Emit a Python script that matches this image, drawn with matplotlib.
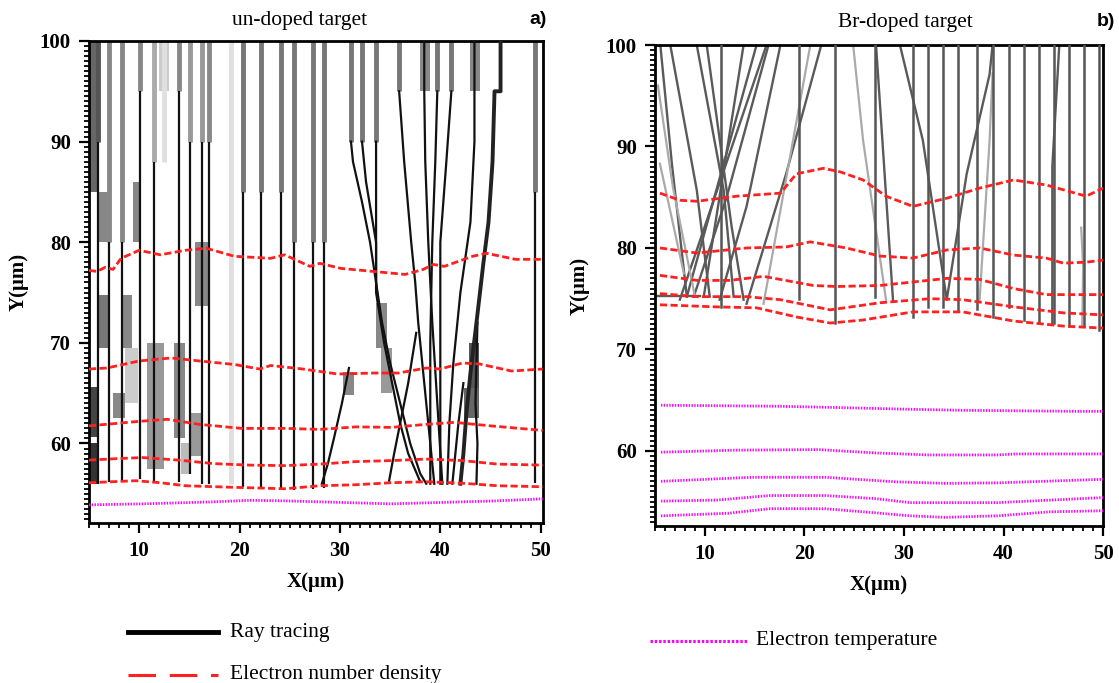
import matplotlib.pyplot as plt
from matplotlib.lines import Line2D
from matplotlib.patches import Rectangle
from matplotlib.ticker import MultipleLocator

plt.rcParams['font.family'] = ['Liberation Serif', 'DejaVu Serif']

# ---------------- a) un-doped target ----------------
# electron number density contours
dens_a1_x = [5.0, 5.8, 6.6, 7.4, 8.2, 10.0, 12.1, 14.6, 16.7, 19.5, 23.1, 24.5, 27.0, 28.0, 30.1, 33.3, 36.5, 38.3, 39.3, 40.4, 43.2, 44.6, 47.5, 50.2]
dens_a1_y = [77.2, 77.1, 77.5, 77.3, 78.4, 79.2, 78.75, 79.2, 79.4, 78.6, 78.4, 78.75, 77.6, 77.9, 77.4, 77.1, 76.8, 77.3, 77.8, 77.6, 78.6, 78.9, 78.3, 78.3]
dens_a2_x = [5.0, 6.8, 10.0, 13.2, 16.0, 19.5, 22.0, 23.1, 26.3, 29.8, 33.3, 35.8, 38.6, 40.0, 42.2, 43.9, 47.1, 50.2]
dens_a2_y = [67.4, 67.5, 68.2, 68.5, 68.2, 67.85, 67.4, 67.75, 67.4, 66.9, 67.0, 67.0, 67.5, 67.4, 68.0, 67.9, 67.2, 67.4]
dens_a3_x = [5.0, 10.0, 12.8, 16.0, 20.2, 24.5, 28.0, 31.6, 35.1, 38.6, 41.4, 45.0, 50.2]
dens_a3_y = [61.75, 62.2, 62.4, 61.9, 61.5, 61.5, 61.4, 61.65, 61.6, 61.9, 62.1, 61.75, 61.3]
dens_a4_x = [5.0, 7.9, 10.35, 13.9, 17.4, 21.0, 24.5, 28.0, 31.6, 35.1, 38.6, 42.2, 45.7, 50.2]
dens_a4_y = [58.35, 58.5, 58.6, 58.35, 58.0, 57.85, 57.8, 57.95, 58.2, 58.3, 58.45, 58.3, 57.95, 57.85]
dens_a5_x = [5.0, 9.65, 12.1, 14.6, 19.2, 24.5, 28.0, 31.6, 35.1, 38.6, 42.2, 45.7, 50.2]
dens_a5_y = [56.1, 56.3, 56.1, 55.8, 55.65, 55.5, 55.8, 55.9, 56.1, 56.2, 56.05, 55.8, 55.7]
# electron temperature contour
temp_a_x = [5.0, 10.35, 17.4, 21.0, 24.5, 28.0, 35.1, 40.4, 45.7, 50.2]
temp_a_y = [53.9, 54.0, 54.2, 54.35, 54.3, 54.2, 54.0, 54.15, 54.3, 54.5]

# straight rays: x, y where grey top part ends, y where ray stops, grey shade
ray_a_x = [5.9, 7.0, 8.3, 10.1, 11.5, 14.0, 15.1, 16.3, 17.0, 20.3, 22.1, 24.1, 25.4, 27.3, 28.4, 49.4]
ray_a_grey_end = [90, 80, 80, 95, 88, 95, 90, 90, 90, 85, 85, 85, 80, 80, 80, 85]
ray_a_end = [56.0, 56.2, 56.2, 56.5, 56.3, 56.2, 57.0, 56.0, 56.0, 55.7, 55.5, 55.4, 55.4, 55.5, 55.6, 56.1]
ray_a_shade = ['#555555', '#888888', '#888888', '#888888', '#aaaaaa', '#888888', '#999999', '#999999',
               '#888888', '#777777', '#777777', '#777777', '#777777', '#777777', '#777777', '#777777']
# grey top parts of the refracted rays
top_a_x = [31.1, 32.2, 33.6, 35.9, 39.7, 41.1]
top_a_end = [90, 90, 90, 95, 95, 95]
# faint rays
faint_a_x = [19.1, 12.5]
faint_a_top = [100, 100]
faint_a_end = [56.0, 88.0]
# refracted rays (polylines)
bent_a = [
    ([31.1, 31.3, 32.2, 33.0, 33.6, 34.2, 35.0, 36.0, 37.0, 38.0, 38.6], [90, 88, 84, 80, 76, 72, 68, 64, 60, 57, 56]),
    ([32.2, 32.6, 33.6, 33.6, 34.4, 35.2, 36.0, 36.8, 38.0], [90, 86, 80, 75, 70, 66, 62, 59, 56.2]),
    ([33.6, 33.6, 33.8], [90, 76, 74]),
    ([35.9, 36.4, 37.1, 37.5, 37.8, 38.4, 39.0, 39.4], [95, 88, 80, 76, 72, 66, 60, 56]),
    ([37.6, 36.8, 36.0, 35.4, 34.9], [71, 66, 62, 59, 56.3]),
    ([30.9, 30.2, 29.4, 28.8, 28.2], [67.5, 64, 60.5, 58, 56]),
    ([43.4, 43.4, 43.0, 42.0, 41.3, 40.9, 40.7], [100, 90, 82, 75, 68, 62, 56]),
    ([39.7, 39.5, 39.2, 39.0, 39.0], [95, 88, 80, 70, 56]),
    ([41.1, 40.6, 40.0, 40.0], [95, 88, 80, 56]),
    ([38.4, 38.4, 38.5, 38.8, 39.2, 39.7, 40.2], [100, 95, 88, 80, 72, 64, 56]),
    ([42.3, 41.8, 41.5, 41.2], [66, 62, 59, 56]),
    ([43.7, 43.5, 43.7, 43.6], [72, 64, 60, 56]),
]
thick_a_x = [46.0, 46.0, 45.4, 45.2, 44.8, 44.3, 43.6, 43.0, 42.6, 42.3, 42.0]
thick_a_y = [100, 95, 95, 88, 82, 78, 72, 67, 63, 59, 56]
# grey cells of the ray map: x0, x1, y0, y1, shade
cells_a = [
    (5.1, 5.9, 85, 100, '#666666'), (5.1, 5.9, 56, 60, '#333333'), (5.1, 5.9, 60.6, 65.6, '#444444'),
    (6.0, 7.1, 80, 85, '#888888'), (6.0, 7.1, 69.5, 74.8, '#777777'), (8.2, 9.3, 69.5, 74.8, '#888888'),
    (9.4, 10.0, 80, 86, '#888888'), (7.4, 8.6, 62.5, 65.0, '#888888'), (8.6, 9.9, 64, 69.5, '#cccccc'),
    (10.8, 12.5, 57.5, 70, '#999999'), (13.5, 14.6, 60.5, 70, '#888888'), (15.6, 17.0, 73.7, 80, '#888888'),
    (15.1, 16.3, 58.8, 63, '#999999'), (14.2, 15.2, 57, 60, '#bbbbbb'), (12.0, 13.0, 95, 100, '#cccccc'),
    (33.6, 34.7, 69.5, 74, '#888888'), (34.1, 35.2, 65, 69.5, '#999999'), (30.3, 31.4, 64.8, 67.1, '#888888'),
    (42.9, 43.9, 65, 70, '#555555'), (42.4, 43.9, 62.5, 65.5, '#666666'), (38.0, 39.0, 95, 100, '#888888'),
    (43.0, 44.0, 95, 100, '#888888'),
]

# ---------------- b) Br-doped target ----------------
dens_b1_x = [5.5, 7.5, 9.2, 13.2, 17.6, 19.2, 21.9, 23.6, 25.9, 28.2, 30.9, 34.3, 37.6, 41.0, 44.3, 48.3, 50.0]
dens_b1_y = [85.4, 84.7, 84.6, 85.1, 85.4, 87.3, 87.85, 87.5, 86.7, 85.1, 84.1, 84.9, 85.9, 86.7, 86.2, 85.1, 85.9]
dens_b2_x = [5.5, 9.2, 14.2, 18.2, 20.6, 24.2, 27.6, 30.9, 34.3, 37.6, 41.0, 44.3, 46.0, 48.3, 50.0]
dens_b2_y = [80.0, 79.5, 80.0, 80.1, 80.6, 80.0, 79.2, 79.0, 79.8, 80.0, 79.3, 79.0, 78.5, 78.6, 78.8]
dens_b3_x = [5.5, 9.2, 12.5, 15.9, 20.9, 23.2, 27.6, 34.3, 37.6, 41.0, 44.3, 47.6, 50.0]
dens_b3_y = [77.3, 76.8, 76.8, 77.2, 76.3, 76.2, 76.3, 77.0, 76.9, 76.0, 75.4, 75.4, 75.4]
dens_b4_x = [5.5, 9.2, 14.2, 17.6, 22.6, 27.6, 32.6, 35.9, 41.0, 46.0, 50.0]
dens_b4_y = [75.5, 75.2, 75.2, 74.9, 73.9, 74.6, 75.0, 74.9, 74.2, 73.6, 73.4]
dens_b5_x = [5.5, 10.9, 15.2, 19.2, 22.6, 25.9, 30.9, 35.9, 41.0, 46.0, 50.0]
dens_b5_y = [74.4, 74.2, 74.1, 73.2, 72.6, 72.9, 73.7, 73.7, 72.8, 72.3, 72.1]
temp_b1_x = [5.6, 17.2, 22.1, 30.6, 35.9, 47.1, 50.0]
temp_b1_y = [64.5, 64.4, 64.3, 64.1, 64.0, 63.9, 63.9]
temp_b2_x = [5.6, 13.0, 21.4, 27.1, 32.4, 39.4, 41.2, 50.0]
temp_b2_y = [59.87, 60.07, 60.13, 59.8, 59.6, 59.6, 59.7, 59.7]
temp_b3_x = [5.6, 14.75, 22.1, 29.2, 34.1, 39.4, 50.0]
temp_b3_y = [57.0, 57.4, 57.4, 56.95, 56.8, 56.85, 57.2]
temp_b4_x = [5.6, 11.2, 16.5, 22.1, 27.1, 30.6, 39.4, 50.0]
temp_b4_y = [55.05, 55.15, 55.6, 55.6, 55.3, 54.9, 54.9, 55.4]
temp_b5_x = [5.6, 12.3, 16.5, 22.1, 27.1, 30.6, 34.1, 39.4, 44.7, 50.0]
temp_b5_y = [53.6, 53.85, 54.3, 54.3, 53.9, 53.6, 53.45, 53.6, 54.0, 54.1]

ray_b_x = [11.6, 19.5, 23.1, 27.1, 30.9, 32.4, 33.9, 35.4, 37.3, 38.9, 40.6, 42.1, 43.6, 45.1, 46.6, 48.1, 49.6]
ray_b_end = [74.2, 75.0, 72.6, 75.2, 73.2, 74.2, 74.2, 73.9, 74.0, 73.2, 74.2, 72.9, 72.6, 72.6, 72.3, 72.3, 71.9]
bent_b = [
    ([5.54, 6.7, 8.2], [100, 88.3, 75.2]),
    ([6.54, 9.2, 10.5], [100, 85.7, 75.2]),
    ([9.2, 11.9, 12.9], [100, 85.7, 75.2]),
    ([10.2, 12.7, 13.9], [100, 82.1, 74.9]),
    ([7.5, 10.9, 16.2], [74.9, 84.7, 100]),
    ([8.9, 12.2, 16.4], [75.2, 85.0, 100]),
    ([11.5, 14.2, 17.6], [74.9, 84.1, 100]),
    ([14.2, 18.2, 21.7], [74.5, 87.4, 100]),
    ([15.2, 8.2], [100, 75.2]),
    ([13.9, 9.9], [100, 75.2]),
    ([29.6, 31.9, 34.3, 36.3, 38.6, 38.9], [100, 90.6, 74.9, 87.3, 97.1, 100]),
    ([27.2, 28.9], [100, 74.9]),
    ([5.2, 9.5], [75.3, 75.3]),
    ([45.6, 44.9, 44.9], [100, 88, 72.6]),
]
faint_b = [
    ([5.5, 7.9], [88.3, 77.5]),
    ([15.9, 20.6], [74.5, 100]),
    ([24.9, 25.9, 28.2], [100, 90.6, 74.9]),
    ([37.6, 38.6, 38.9], [74.9, 90.6, 97.2]),
    ([5.3, 6.8, 9.0], [96, 86, 75.3]),
    ([47.8, 48.0, 47.9], [82, 78, 72.4]),
]

red = '#ff2020'
magenta = '#ff00ff'

fig = plt.figure(figsize=(11.19, 6.83), dpi=100)
ax_a = fig.add_axes([0.0795, 0.2343, 0.4055, 0.7057])
ax_b = fig.add_axes([0.5853, 0.2299, 0.4005, 0.7042])


def dens(ax, x, y):
    ax.plot(x, y, color=red, lw=2.0, dashes=(2.6, 1.2), zorder=5)


def temp(ax, x, y):
    ax.plot(x, y, color=magenta, lw=2.0, dashes=(0.5, 0.5), zorder=5)


# panel a
for x0, x1, y0, y1, c in cells_a:
    ax_a.add_patch(Rectangle((x0, y0), x1 - x0, y1 - y0, color=c, lw=0, zorder=1))
for x, ge, e, c in zip(ray_a_x, ray_a_grey_end, ray_a_end, ray_a_shade):
    ax_a.plot([x, x], [100, ge], color=c, lw=3.5, solid_capstyle='butt', zorder=2)
    ax_a.plot([x, x], [ge, e], color='#111111', lw=1.6, solid_capstyle='butt', zorder=3)
for x, ge in zip(top_a_x, top_a_end):
    ax_a.plot([x, x], [100, ge], color='#777777', lw=3.5, solid_capstyle='butt', zorder=2)
for x, t, e in zip(faint_a_x, faint_a_top, faint_a_end):
    ax_a.plot([x, x], [t, e], color='#e0e0e0', lw=3.5, solid_capstyle='butt', zorder=2)
for xs, ys in bent_a:
    ax_a.plot(xs, ys, color='#111111', lw=1.6, zorder=3)
ax_a.plot(thick_a_x, thick_a_y, color='#222222', lw=2.8, zorder=3)
for x, y in [(dens_a1_x, dens_a1_y), (dens_a2_x, dens_a2_y), (dens_a3_x, dens_a3_y),
             (dens_a4_x, dens_a4_y), (dens_a5_x, dens_a5_y)]:
    dens(ax_a, x, y)
temp(ax_a, temp_a_x, temp_a_y)
ax_a.set_xlim(5, 50.2)
ax_a.set_ylim(52.1, 100)

# panel b
for x, e in zip(ray_b_x, ray_b_end):
    ax_b.plot([x, x], [100, e], color='#555555', lw=1.8, zorder=3)
for xs, ys in bent_b:
    ax_b.plot(xs, ys, color='#5a5a5a', lw=1.7, zorder=2)
for xs, ys in faint_b:
    ax_b.plot(xs, ys, color='#aaaaaa', lw=1.6, zorder=2)
for x, y in [(dens_b1_x, dens_b1_y), (dens_b2_x, dens_b2_y), (dens_b3_x, dens_b3_y),
             (dens_b4_x, dens_b4_y), (dens_b5_x, dens_b5_y)]:
    dens(ax_b, x, y)
for x, y in [(temp_b1_x, temp_b1_y), (temp_b2_x, temp_b2_y), (temp_b3_x, temp_b3_y),
             (temp_b4_x, temp_b4_y), (temp_b5_x, temp_b5_y)]:
    temp(ax_b, x, y)
ax_b.set_xlim(5, 50)
ax_b.set_ylim(52.6, 100)

for ax in (ax_a, ax_b):
    ax.set_xticks([10, 20, 30, 40, 50])
    ax.set_yticks([60, 70, 80, 90, 100])
    ax.xaxis.set_minor_locator(MultipleLocator(1))
    ax.yaxis.set_minor_locator(MultipleLocator(0.5))
    ax.tick_params(which='major', direction='out', length=7, width=1.6, labelsize=15, pad=6)
    ax.tick_params(which='minor', direction='out', length=3.5, width=1.3)
    for lab in ax.get_xticklabels() + ax.get_yticklabels():
        lab.set_fontweight('bold')
    for s in ax.spines.values():
        s.set_linewidth(2)
    ax.set_xlabel('X(\u03bcm)', fontsize=15, fontweight='bold', labelpad=8)
    ax.set_ylabel('Y(\u03bcm)', fontsize=15, fontweight='bold')
ax_a.yaxis.set_label_coords(-0.134, 0.5)
ax_b.yaxis.set_label_coords(-0.145, 0.5)

fig.text(300 / 1119, 1 - 20 / 683, 'un-doped target', fontsize=15.5, ha='center', va='center')
fig.text(905 / 1119, 1 - 22 / 683, 'Br-doped target', fontsize=15.5, ha='center', va='center')
fig.text(538 / 1119, 1 - 20 / 683, 'a)', fontsize=14, fontweight='bold', family='Liberation Sans', ha='center', va='center')
fig.text(1106 / 1119, 1 - 22 / 683, 'b)', fontsize=14, fontweight='bold', family='Liberation Sans', ha='center', va='center')

# legend entries
fig.add_artist(Line2D([128 / 1119, 218 / 1119], [1 - 632 / 683] * 2, color='black', lw=3.5))
fig.text(230 / 1119, 1 - 632 / 683, 'Ray tracing', fontsize=15.5, va='center')
fig.add_artist(Line2D([128 / 1119, 218 / 1119], [1 - 675 / 683] * 2, color=red, lw=2.2, dashes=(9, 4.5)))
fig.text(230 / 1119, 1 - 675 / 683, 'Electron number density', fontsize=15.5, va='center')
fig.add_artist(Line2D([650 / 1119, 748 / 1119], [1 - 641 / 683] * 2, color=magenta, lw=2.2, dashes=(0.8, 0.6)))
fig.text(756 / 1119, 1 - 641 / 683, 'Electron temperature', fontsize=15.5, va='center')

fig.savefig('out.png', dpi=100)
